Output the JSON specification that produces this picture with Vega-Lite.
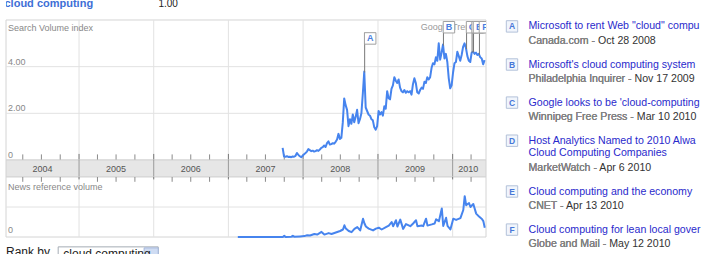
{
  "$schema": "https://vega.github.io/schema/vega-lite/v6.json",
  "padding": {"left": 5, "top": 0, "right": 0, "bottom": 0},
  "background": "white",
  "spacing": 17,
  "config": {
    "view": {"stroke": null},
    "axis": {"disable": true},
    "font": "Liberation Sans",
    "mark": {"font": "Liberation Sans"},
    "text": {"font": "Liberation Sans"}
  },
  "datasets": {
    "years": [{"d": "2005-01-01"}, {"d": "2006-01-01"}, {"d": "2007-01-01"}, {"d": "2008-01-01"}, {"d": "2009-01-01"}, {"d": "2010-01-01"}],
    "quarters": [
      {"d": "2004-04-01"}, {"d": "2004-07-01"}, {"d": "2004-10-01"},
      {"d": "2005-04-01"}, {"d": "2005-07-01"}, {"d": "2005-10-01"},
      {"d": "2006-04-01"}, {"d": "2006-07-01"}, {"d": "2006-10-01"},
      {"d": "2007-04-01"}, {"d": "2007-07-01"}, {"d": "2007-10-01"},
      {"d": "2008-04-01"}, {"d": "2008-07-01"}, {"d": "2008-10-01"},
      {"d": "2009-04-01"}, {"d": "2009-07-01"}, {"d": "2009-10-01"},
      {"d": "2010-04-01"}
    ],
    "yearlabels": [
      {"year": "2004", "mid": "2004-07-06"}, {"year": "2005", "mid": "2005-07-01"}, {"year": "2006", "mid": "2006-07-01"},
      {"year": "2007", "mid": "2007-07-01"}, {"year": "2008", "mid": "2008-07-01"}, {"year": "2009", "mid": "2009-07-01"},
      {"year": "2010", "mid": "2010-03-18"}
    ],
    "ylabels": [{"v": 0, "label": "0"}, {"v": 2, "label": "2.00"}, {"v": 4, "label": "4.00"}],
    "search": [
      {"date": "2007-09-23", "value": 0.52}, {"date": "2007-09-30", "value": 0.15}, {"date": "2007-10-07", "value": 0.14},
      {"date": "2007-10-14", "value": 0.16}, {"date": "2007-10-21", "value": 0.13}, {"date": "2007-10-28", "value": 0.14},
      {"date": "2007-11-04", "value": 0.12}, {"date": "2007-11-11", "value": 0.15}, {"date": "2007-11-18", "value": 0.14},
      {"date": "2007-11-25", "value": 0.18}, {"date": "2007-12-02", "value": 0.3}, {"date": "2007-12-09", "value": 0.22},
      {"date": "2007-12-16", "value": 0.16}, {"date": "2007-12-23", "value": 0.12}, {"date": "2007-12-30", "value": 0.18},
      {"date": "2008-01-06", "value": 0.25}, {"date": "2008-01-13", "value": 0.3}, {"date": "2008-01-20", "value": 0.36},
      {"date": "2008-01-27", "value": 0.47}, {"date": "2008-02-03", "value": 0.42}, {"date": "2008-02-10", "value": 0.38},
      {"date": "2008-02-17", "value": 0.4}, {"date": "2008-02-24", "value": 0.36}, {"date": "2008-03-02", "value": 0.38},
      {"date": "2008-03-09", "value": 0.42}, {"date": "2008-03-16", "value": 0.39}, {"date": "2008-03-23", "value": 0.45},
      {"date": "2008-03-30", "value": 0.52}, {"date": "2008-04-06", "value": 0.55}, {"date": "2008-04-13", "value": 0.62},
      {"date": "2008-04-20", "value": 0.56}, {"date": "2008-04-27", "value": 0.72}, {"date": "2008-05-04", "value": 0.8},
      {"date": "2008-05-11", "value": 0.66}, {"date": "2008-05-18", "value": 0.68}, {"date": "2008-05-25", "value": 0.72},
      {"date": "2008-06-01", "value": 0.7}, {"date": "2008-06-08", "value": 0.78}, {"date": "2008-06-15", "value": 0.88},
      {"date": "2008-06-22", "value": 1.12}, {"date": "2008-06-29", "value": 0.9}, {"date": "2008-07-06", "value": 0.95},
      {"date": "2008-07-13", "value": 1.6}, {"date": "2008-07-20", "value": 2.64}, {"date": "2008-07-27", "value": 2.35},
      {"date": "2008-08-03", "value": 2.15}, {"date": "2008-08-10", "value": 1.45}, {"date": "2008-08-17", "value": 1.75},
      {"date": "2008-08-24", "value": 1.55}, {"date": "2008-08-31", "value": 1.95}, {"date": "2008-09-07", "value": 1.62},
      {"date": "2008-09-14", "value": 1.85}, {"date": "2008-09-21", "value": 2.15}, {"date": "2008-09-28", "value": 1.58},
      {"date": "2008-10-05", "value": 1.75}, {"date": "2008-10-12", "value": 2.0}, {"date": "2008-10-19", "value": 2.85},
      {"date": "2008-10-26", "value": 3.79}, {"date": "2008-11-02", "value": 2.25}, {"date": "2008-11-09", "value": 2.1},
      {"date": "2008-11-16", "value": 1.95}, {"date": "2008-11-23", "value": 1.9}, {"date": "2008-11-30", "value": 1.75},
      {"date": "2008-12-07", "value": 1.7}, {"date": "2008-12-14", "value": 1.4}, {"date": "2008-12-21", "value": 1.3},
      {"date": "2008-12-28", "value": 1.45}, {"date": "2009-01-04", "value": 2.1}, {"date": "2009-01-11", "value": 1.95},
      {"date": "2009-01-18", "value": 2.05}, {"date": "2009-01-25", "value": 1.9}, {"date": "2009-02-01", "value": 2.3},
      {"date": "2009-02-08", "value": 2.2}, {"date": "2009-02-15", "value": 2.95}, {"date": "2009-02-22", "value": 2.65},
      {"date": "2009-03-01", "value": 2.6}, {"date": "2009-03-08", "value": 3.05}, {"date": "2009-03-15", "value": 3.2},
      {"date": "2009-03-22", "value": 3.55}, {"date": "2009-03-29", "value": 3.4}, {"date": "2009-04-05", "value": 3.3},
      {"date": "2009-04-12", "value": 3.45}, {"date": "2009-04-19", "value": 3.1}, {"date": "2009-04-26", "value": 2.95},
      {"date": "2009-05-03", "value": 2.9}, {"date": "2009-05-10", "value": 3.0}, {"date": "2009-05-17", "value": 2.88},
      {"date": "2009-05-24", "value": 2.95}, {"date": "2009-05-31", "value": 2.9}, {"date": "2009-06-07", "value": 2.95},
      {"date": "2009-06-14", "value": 2.8}, {"date": "2009-06-21", "value": 3.25}, {"date": "2009-06-28", "value": 3.5},
      {"date": "2009-07-05", "value": 3.3}, {"date": "2009-07-12", "value": 2.9}, {"date": "2009-07-19", "value": 2.85},
      {"date": "2009-07-26", "value": 3.0}, {"date": "2009-08-02", "value": 3.1}, {"date": "2009-08-09", "value": 3.05},
      {"date": "2009-08-16", "value": 3.35}, {"date": "2009-08-23", "value": 3.3}, {"date": "2009-08-30", "value": 3.55},
      {"date": "2009-09-06", "value": 3.45}, {"date": "2009-09-13", "value": 3.55}, {"date": "2009-09-20", "value": 3.95},
      {"date": "2009-09-27", "value": 4.15}, {"date": "2009-10-04", "value": 4.1}, {"date": "2009-10-11", "value": 4.4},
      {"date": "2009-10-18", "value": 4.25}, {"date": "2009-10-25", "value": 5.0}, {"date": "2009-11-01", "value": 4.3},
      {"date": "2009-11-08", "value": 4.6}, {"date": "2009-11-15", "value": 4.95}, {"date": "2009-11-22", "value": 4.35},
      {"date": "2009-11-29", "value": 4.55}, {"date": "2009-12-06", "value": 4.2}, {"date": "2009-12-13", "value": 3.5},
      {"date": "2009-12-20", "value": 3.07}, {"date": "2009-12-27", "value": 3.2}, {"date": "2010-01-03", "value": 3.75},
      {"date": "2010-01-10", "value": 4.15}, {"date": "2010-01-17", "value": 4.2}, {"date": "2010-01-24", "value": 4.64},
      {"date": "2010-01-31", "value": 4.45}, {"date": "2010-02-07", "value": 4.25}, {"date": "2010-02-14", "value": 4.5},
      {"date": "2010-02-21", "value": 4.85}, {"date": "2010-02-28", "value": 5.0}, {"date": "2010-03-07", "value": 4.8},
      {"date": "2010-03-14", "value": 4.45}, {"date": "2010-03-21", "value": 4.25}, {"date": "2010-03-28", "value": 4.2},
      {"date": "2010-04-04", "value": 4.6}, {"date": "2010-04-11", "value": 4.65}, {"date": "2010-04-18", "value": 4.55},
      {"date": "2010-04-25", "value": 4.6}, {"date": "2010-05-02", "value": 4.5}, {"date": "2010-05-09", "value": 4.55},
      {"date": "2010-05-16", "value": 4.4}, {"date": "2010-05-23", "value": 4.35}, {"date": "2010-05-30", "value": 4.1},
      {"date": "2010-06-06", "value": 4.28}
    ],
    "news": [
      {"date": "2007-02-16", "value": 0}, {"date": "2007-09-24", "value": 0}, {"date": "2007-10-01", "value": 0.04},
      {"date": "2007-10-08", "value": 0}, {"date": "2007-11-05", "value": 0.01}, {"date": "2007-11-12", "value": 0.04},
      {"date": "2007-11-19", "value": 0.01}, {"date": "2007-12-17", "value": 0.02}, {"date": "2008-01-07", "value": 0.03},
      {"date": "2008-01-21", "value": 0.06}, {"date": "2008-02-04", "value": 0.05}, {"date": "2008-02-25", "value": 0.1},
      {"date": "2008-03-10", "value": 0.08}, {"date": "2008-03-31", "value": 0.17}, {"date": "2008-04-14", "value": 0.08},
      {"date": "2008-05-05", "value": 0.13}, {"date": "2008-05-19", "value": 0.1}, {"date": "2008-06-09", "value": 0.15},
      {"date": "2008-06-30", "value": 0.2}, {"date": "2008-07-14", "value": 0.25}, {"date": "2008-07-21", "value": 0.39},
      {"date": "2008-07-28", "value": 0.28}, {"date": "2008-08-11", "value": 0.2}, {"date": "2008-08-25", "value": 0.16},
      {"date": "2008-09-08", "value": 0.27}, {"date": "2008-09-22", "value": 0.33}, {"date": "2008-10-06", "value": 0.22},
      {"date": "2008-10-20", "value": 0.61}, {"date": "2008-10-27", "value": 0.45}, {"date": "2008-11-03", "value": 0.35},
      {"date": "2008-11-17", "value": 0.28}, {"date": "2008-12-08", "value": 0.22}, {"date": "2008-12-22", "value": 0.28},
      {"date": "2009-01-05", "value": 0.31}, {"date": "2009-01-19", "value": 0.25}, {"date": "2009-02-09", "value": 0.33},
      {"date": "2009-02-23", "value": 0.38}, {"date": "2009-03-09", "value": 0.5}, {"date": "2009-03-16", "value": 0.36},
      {"date": "2009-03-30", "value": 0.56}, {"date": "2009-04-06", "value": 0.35}, {"date": "2009-04-20", "value": 0.58},
      {"date": "2009-05-04", "value": 0.27}, {"date": "2009-05-18", "value": 0.43}, {"date": "2009-06-08", "value": 0.36},
      {"date": "2009-06-22", "value": 0.45}, {"date": "2009-07-06", "value": 0.56}, {"date": "2009-07-13", "value": 0.36},
      {"date": "2009-08-03", "value": 0.38}, {"date": "2009-08-10", "value": 0.36}, {"date": "2009-08-24", "value": 0.61},
      {"date": "2009-08-31", "value": 0.38}, {"date": "2009-09-21", "value": 0.42}, {"date": "2009-10-05", "value": 0.45},
      {"date": "2009-10-12", "value": 0.59}, {"date": "2009-10-26", "value": 0.53}, {"date": "2009-11-09", "value": 0.95},
      {"date": "2009-11-16", "value": 0.37}, {"date": "2009-11-30", "value": 0.64}, {"date": "2009-12-07", "value": 0.37},
      {"date": "2009-12-21", "value": 0.25}, {"date": "2010-01-04", "value": 0.61}, {"date": "2010-01-18", "value": 0.57},
      {"date": "2010-02-08", "value": 0.63}, {"date": "2010-02-22", "value": 0.9}, {"date": "2010-03-01", "value": 1.36},
      {"date": "2010-03-08", "value": 1.06}, {"date": "2010-03-15", "value": 1.1}, {"date": "2010-03-22", "value": 1.13},
      {"date": "2010-03-29", "value": 1.0}, {"date": "2010-04-12", "value": 1.1}, {"date": "2010-04-26", "value": 0.78},
      {"date": "2010-05-10", "value": 0.68}, {"date": "2010-05-24", "value": 0.6}, {"date": "2010-05-31", "value": 0.53},
      {"date": "2010-06-07", "value": 0.31}
    ],
    "flags": [
      {"letter": "A", "date": "2008-10-28", "value": 3.75},
      {"letter": "B", "date": "2009-11-17", "value": 4.9},
      {"letter": "C", "date": "2010-03-10", "value": 4.75},
      {"letter": "D", "date": "2010-04-06", "value": 4.6},
      {"letter": "E", "date": "2010-04-13", "value": 4.62},
      {"letter": "F", "date": "2010-05-12", "value": 4.5}
    ],
    "icons": [
      {"letter": "A", "line": "A1"}, {"letter": "B", "line": "B1"}, {"letter": "C", "line": "C1"},
      {"letter": "D", "line": "D1"}, {"letter": "E", "line": "E1"}, {"letter": "F", "line": "F1"}
    ],
    "newslines": [
      {"line": "A1", "kind": "title", "text": "Microsoft to rent Web \"cloud\" computing services"},
      {"line": "A2", "kind": "source", "text": "Canada.com - Oct 28 2008", "src": "Canada.com -"},
      {"line": "B1", "kind": "title", "text": "Microsoft's cloud computing system"},
      {"line": "B2", "kind": "source", "text": "Philadelphia Inquirer - Nov 17 2009", "src": "Philadelphia Inquirer -"},
      {"line": "C1", "kind": "title", "text": "Google looks to be 'cloud-computing' rainmaker"},
      {"line": "C2", "kind": "source", "text": "Winnipeg Free Press - Mar 10 2010", "src": "Winnipeg Free Press -"},
      {"line": "D1", "kind": "title", "text": "Host Analytics Named to 2010 AlwaysOn OnDemand 100 Top Private"},
      {"line": "D2", "kind": "title", "text": "Cloud Computing Companies"},
      {"line": "D3", "kind": "source", "text": "MarketWatch - Apr 6 2010", "src": "MarketWatch -"},
      {"line": "E1", "kind": "title", "text": "Cloud computing and the economy"},
      {"line": "E2", "kind": "source", "text": "CNET - Apr 13 2010", "src": "CNET -"},
      {"line": "F1", "kind": "title", "text": "Cloud computing for lean local governments"},
      {"line": "F2", "kind": "source", "text": "Globe and Mail - May 12 2010", "src": "Globe and Mail -"}
    ]
  },
  "hconcat": [
    {
      "spacing": 0,
      "bounds": "flush",
      "vconcat": [
        {
          "width": 480,
          "height": 160,
          "layer": [
            {"data": {"values": [{}]}, "mark": {"type": "rect", "fill": "white", "stroke": "#d4d4d4", "strokeWidth": 1},
             "encoding": {"y": {"datum": 0, "type": "quantitative", "scale": {"domain": [0, 6.857], "nice": false, "zero": false}, "axis": null}, "y2": {"datum": 6}}},
            {"data": {"values": [{"v": 2}, {"v": 4}]}, "mark": {"type": "rule", "color": "#e2e2e2"},
             "encoding": {"y": {"field": "v", "type": "quantitative", "scale": {"domain": [0, 6.857], "nice": false, "zero": false}}}},
            {"data": {"name": "years"}, "mark": {"type": "rule", "color": "#e2e2e2"},
             "encoding": {"x": {"field": "d", "type": "temporal", "scale": {"domain": [{"year": 2004, "month": 1, "date": 10}, {"year": 2010, "month": 6, "date": 13}], "nice": false}, "axis": null},
                          "y": {"datum": 0, "type": "quantitative"}, "y2": {"datum": 6}}},
            {"data": {"name": "quarters"}, "mark": {"type": "rule", "color": "#8a8a8a"},
             "encoding": {"x": {"field": "d", "type": "temporal"}, "y": {"datum": 0, "type": "quantitative"}, "y2": {"datum": 0.24}}},
            {"data": {"name": "years"}, "mark": {"type": "rule", "color": "#777777"},
             "encoding": {"x": {"field": "d", "type": "temporal"}, "y": {"datum": 0, "type": "quantitative"}, "y2": {"datum": 0.26}}},
            {"data": {"name": "ylabels"}, "mark": {"type": "text", "align": "left", "baseline": "bottom", "dx": 2, "dy": 0, "fontSize": 9, "color": "#888888"},
             "encoding": {"x": {"datum": {"year": 2004, "month": 1, "date": 10}, "type": "temporal"}, "y": {"field": "v", "type": "quantitative"}, "text": {"field": "label"}}},
            {"data": {"values": [{"t": "Search Volume index"}]}, "mark": {"type": "text", "align": "left", "baseline": "top", "dx": 2, "dy": 4, "fontSize": 9, "color": "#888888"},
             "encoding": {"x": {"datum": {"year": 2004, "month": 1, "date": 10}, "type": "temporal"}, "y": {"datum": 6, "type": "quantitative"}, "text": {"field": "t"}}},
            {"data": {"values": [{"t": "cloud computing"}]}, "mark": {"type": "text", "align": "left", "baseline": "alphabetic", "dx": -1.5, "fontSize": 11, "fontWeight": "bold", "color": "#3e6fd6", "clip": true},
             "encoding": {"x": {"datum": {"year": 2004, "month": 1, "date": 10}, "type": "temporal"}, "y": {"datum": 6.54, "type": "quantitative"}, "text": {"field": "t"}}},
            {"data": {"values": [{"t": "1.00", "d": "2006-01-24"}]}, "mark": {"type": "text", "align": "left", "baseline": "alphabetic", "fontSize": 10, "color": "#222222", "clip": true},
             "encoding": {"x": {"field": "d", "type": "temporal"}, "y": {"datum": 6.54, "type": "quantitative"}, "text": {"field": "t"}}},
            {"data": {"values": [{"t": "Google Trends", "d": "2009-07-29"}]}, "mark": {"type": "text", "align": "left", "baseline": "middle", "fontSize": 9, "color": "#999999", "clip": true},
             "encoding": {"x": {"field": "d", "type": "temporal"}, "y": {"datum": 5.69, "type": "quantitative"}, "text": {"field": "t"}}},
            {"data": {"name": "search"}, "mark": {"type": "line", "color": "#4684ee", "strokeWidth": 2, "strokeJoin": "round"},
             "encoding": {"x": {"field": "date", "type": "temporal"}, "y": {"field": "value", "type": "quantitative"}}},
            {"data": {"name": "flags"}, "mark": {"type": "rule", "color": "#777777", "strokeWidth": 1},
             "encoding": {"x": {"field": "date", "type": "temporal"}, "y": {"field": "value", "type": "quantitative"}, "y2": {"datum": 5.46}}},
            {"data": {"name": "flags"}, "transform": [{"filter": "datum.letter === 'A'"}], "mark": {"type": "square", "size": 132, "fill": "white", "stroke": "#a0a0a0", "strokeWidth": 1, "opacity": 1, "xOffset": 5.5, "yOffset": 11.2, "clip": true},
             "encoding": {"x": {"field": "date", "type": "temporal"}, "y": {"datum": 5.69, "type": "quantitative"}}},
            {"data": {"name": "flags"}, "transform": [{"filter": "datum.letter === 'A'"}], "mark": {"type": "text", "fontSize": 9, "fontWeight": "bold", "color": "#4a7fe0", "xOffset": 5.5, "yOffset": 11.2, "align": "center", "baseline": "middle", "clip": true},
             "encoding": {"x": {"field": "date", "type": "temporal"}, "y": {"datum": 5.69, "type": "quantitative"}, "text": {"field": "letter"}}},
            {"data": {"name": "flags"}, "transform": [{"filter": "datum.letter === 'B'"}], "mark": {"type": "square", "size": 132, "fill": "white", "stroke": "#a0a0a0", "strokeWidth": 1, "opacity": 1, "xOffset": 5.5, "clip": true},
             "encoding": {"x": {"field": "date", "type": "temporal"}, "y": {"datum": 5.69, "type": "quantitative"}}},
            {"data": {"name": "flags"}, "transform": [{"filter": "datum.letter === 'B'"}], "mark": {"type": "text", "fontSize": 9, "fontWeight": "bold", "color": "#4a7fe0", "xOffset": 5.5, "align": "center", "baseline": "middle", "clip": true},
             "encoding": {"x": {"field": "date", "type": "temporal"}, "y": {"datum": 5.69, "type": "quantitative"}, "text": {"field": "letter"}}},
            {"data": {"name": "flags"}, "transform": [{"filter": "datum.letter === 'C'"}], "mark": {"type": "square", "size": 132, "fill": "white", "stroke": "#a0a0a0", "strokeWidth": 1, "opacity": 1, "xOffset": 5.5, "clip": true},
             "encoding": {"x": {"field": "date", "type": "temporal"}, "y": {"datum": 5.69, "type": "quantitative"}}},
            {"data": {"name": "flags"}, "transform": [{"filter": "datum.letter === 'C'"}], "mark": {"type": "text", "fontSize": 9, "fontWeight": "bold", "color": "#4a7fe0", "xOffset": 5.5, "align": "center", "baseline": "middle", "clip": true},
             "encoding": {"x": {"field": "date", "type": "temporal"}, "y": {"datum": 5.69, "type": "quantitative"}, "text": {"field": "letter"}}},
            {"data": {"name": "flags"}, "transform": [{"filter": "datum.letter === 'D'"}], "mark": {"type": "square", "size": 132, "fill": "white", "stroke": "#a0a0a0", "strokeWidth": 1, "opacity": 1, "xOffset": 5.5, "clip": true},
             "encoding": {"x": {"field": "date", "type": "temporal"}, "y": {"datum": 5.69, "type": "quantitative"}}},
            {"data": {"name": "flags"}, "transform": [{"filter": "datum.letter === 'D'"}], "mark": {"type": "text", "fontSize": 9, "fontWeight": "bold", "color": "#4a7fe0", "xOffset": 5.5, "align": "center", "baseline": "middle", "clip": true},
             "encoding": {"x": {"field": "date", "type": "temporal"}, "y": {"datum": 5.69, "type": "quantitative"}, "text": {"field": "letter"}}},
            {"data": {"name": "flags"}, "transform": [{"filter": "datum.letter === 'E'"}], "mark": {"type": "square", "size": 132, "fill": "white", "stroke": "#a0a0a0", "strokeWidth": 1, "opacity": 1, "xOffset": 5.5, "clip": true},
             "encoding": {"x": {"field": "date", "type": "temporal"}, "y": {"datum": 5.69, "type": "quantitative"}}},
            {"data": {"name": "flags"}, "transform": [{"filter": "datum.letter === 'E'"}], "mark": {"type": "text", "fontSize": 9, "fontWeight": "bold", "color": "#4a7fe0", "xOffset": 5.5, "align": "center", "baseline": "middle", "clip": true},
             "encoding": {"x": {"field": "date", "type": "temporal"}, "y": {"datum": 5.69, "type": "quantitative"}, "text": {"field": "letter"}}},
            {"data": {"name": "flags"}, "transform": [{"filter": "datum.letter === 'F'"}], "mark": {"type": "square", "size": 132, "fill": "white", "stroke": "#a0a0a0", "strokeWidth": 1, "opacity": 1, "xOffset": 5.5, "clip": true},
             "encoding": {"x": {"field": "date", "type": "temporal"}, "y": {"datum": 5.69, "type": "quantitative"}}},
            {"data": {"name": "flags"}, "transform": [{"filter": "datum.letter === 'F'"}], "mark": {"type": "text", "fontSize": 9, "fontWeight": "bold", "color": "#4a7fe0", "xOffset": 5.5, "align": "center", "baseline": "middle", "clip": true},
             "encoding": {"x": {"field": "date", "type": "temporal"}, "y": {"datum": 5.69, "type": "quantitative"}, "text": {"field": "letter"}}}
          ]
        },
        {
          "width": 480,
          "height": 17,
          "layer": [
            {"data": {"values": [{}]}, "mark": {"type": "rect", "fill": "#e6e6e6", "stroke": "#d2d2d2", "strokeWidth": 1}, "encoding": {}},
            {"data": {"name": "years"}, "mark": {"type": "rule", "color": "#9a9a9a"},
             "encoding": {"x": {"field": "d", "type": "temporal", "scale": {"domain": [{"year": 2004, "month": 1, "date": 10}, {"year": 2010, "month": 6, "date": 13}], "nice": false}, "axis": null}}},
            {"data": {"name": "yearlabels"}, "mark": {"type": "text", "fontSize": 9, "color": "#555555", "baseline": "middle", "align": "center"},
             "encoding": {"x": {"field": "mid", "type": "temporal"}, "text": {"field": "year"}}}
          ]
        },
        {
          "width": 480,
          "height": 60,
          "layer": [
            {"data": {"values": [{}]}, "mark": {"type": "rect", "fill": "white", "stroke": "#d4d4d4", "strokeWidth": 1}, "encoding": {}},
            {"data": {"name": "years"}, "mark": {"type": "rule", "color": "#e2e2e2"},
             "encoding": {"x": {"field": "d", "type": "temporal", "scale": {"domain": [{"year": 2004, "month": 1, "date": 10}, {"year": 2010, "month": 6, "date": 13}], "nice": false}, "axis": null}}},
            {"data": {"values": [{"v": 1}]}, "mark": {"type": "rule", "color": "#e2e2e2"},
             "encoding": {"y": {"field": "v", "type": "quantitative", "scale": {"domain": [0, 2], "nice": false, "zero": false}, "axis": null}}},
            {"data": {"name": "quarters"}, "mark": {"type": "rule", "color": "#8a8a8a"},
             "encoding": {"x": {"field": "d", "type": "temporal"}, "y": {"datum": 2, "type": "quantitative"}, "y2": {"datum": 1.84}}},
            {"data": {"name": "years"}, "mark": {"type": "rule", "color": "#777777"},
             "encoding": {"x": {"field": "d", "type": "temporal"}, "y": {"datum": 2, "type": "quantitative"}, "y2": {"datum": 1.92}}},
            {"data": {"values": [{"t": "News reference volume"}]}, "mark": {"type": "text", "align": "left", "baseline": "top", "dx": 2, "dy": 6, "fontSize": 9, "color": "#888888"},
             "encoding": {"x": {"datum": {"year": 2004, "month": 1, "date": 10}, "type": "temporal"}, "y": {"datum": 2, "type": "quantitative"}, "text": {"field": "t"}}},
            {"data": {"values": [{"t": "0"}]}, "mark": {"type": "text", "align": "left", "baseline": "bottom", "dx": 2, "dy": -2, "fontSize": 9, "color": "#888888"},
             "encoding": {"x": {"datum": {"year": 2004, "month": 1, "date": 10}, "type": "temporal"}, "y": {"datum": 0, "type": "quantitative"}, "text": {"field": "t"}}},
            {"data": {"name": "news"}, "mark": {"type": "line", "color": "#4684ee", "strokeWidth": 2, "strokeJoin": "round"},
             "encoding": {"x": {"field": "date", "type": "temporal"}, "y": {"field": "value", "type": "quantitative"}}}
          ]
        },
        {
          "width": 480,
          "height": 17,
          "layer": [
            {"data": {"values": [{"t": "Rank by"}]}, "mark": {"type": "text", "align": "left", "baseline": "top", "fontSize": 12, "color": "#222222", "dy": 1, "clip": true},
             "encoding": {"x": {"datum": {"year": 2004, "month": 1, "date": 10}, "type": "temporal", "scale": {"domain": [{"year": 2004, "month": 1, "date": 10}, {"year": 2010, "month": 6, "date": 13}], "nice": false}, "axis": null}, "text": {"field": "t"}}},
            {"data": {"values": [{"a": "2004-09-21", "b": "2006-01-23"}]}, "mark": {"type": "rect", "fill": "white", "stroke": "#a5acb5", "strokeWidth": 1, "clip": true},
             "encoding": {"x": {"field": "a", "type": "temporal"}, "x2": {"field": "b"}, "y": {"datum": 0.42, "type": "quantitative", "scale": {"domain": [0, 1], "nice": false, "zero": false}, "axis": null}, "y2": {"datum": -0.6}}},
            {"data": {"values": [{"a": "2005-11-15", "b": "2006-01-23"}]}, "mark": {"type": "rect", "fill": "#cfdcf3", "stroke": "#a3b6da", "strokeWidth": 1, "clip": true},
             "encoding": {"x": {"field": "a", "type": "temporal"}, "x2": {"field": "b"}, "y": {"datum": 0.36, "type": "quantitative"}, "y2": {"datum": -0.6}}},
            {"data": {"values": [{"t": "cloud computing", "d": "2004-10-16"}]}, "mark": {"type": "text", "align": "left", "baseline": "top", "fontSize": 12, "color": "#222222", "dy": 2, "clip": true},
             "encoding": {"x": {"field": "d", "type": "temporal"}, "y": {"datum": 0.42, "type": "quantitative"}, "text": {"field": "t"}}}
          ]
        }
      ]
    },
    {
      "width": 16.5,
      "height": 254,
      "layer": [
        {"data": {"name": "icons"}, "mark": {"type": "square", "size": 130, "fill": "#f1f5fc", "stroke": "#b3c1d9", "strokeWidth": 1, "opacity": 1, "yOffset": 1},
         "encoding": {
           "x": {"datum": "icon", "type": "nominal", "scale": {"type": "point", "domain": ["icon", "text"], "padding": 0}, "axis": null},
           "y": {"field": "line", "type": "nominal", "scale": {"type": "point", "domain": ["p1", "p2", "A1", "A2", "A3", "B1", "B2", "B3", "C1", "C2", "C3", "D1", "D2", "D3", "D4", "E1", "E2", "E3", "F1", "F2", "q1"], "padding": 0}, "axis": null}
         }},
        {"data": {"name": "icons"}, "mark": {"type": "text", "fontSize": 8.5, "fontWeight": "bold", "color": "#4878d8", "align": "center", "baseline": "middle", "dy": 1},
         "encoding": {"x": {"datum": "icon", "type": "nominal"}, "y": {"field": "line", "type": "nominal"}, "text": {"field": "letter"}}},
        {"data": {"name": "newslines"}, "transform": [{"filter": "datum.kind === 'title'"}], "mark": {"type": "text", "align": "left", "baseline": "middle", "fontSize": 10.6, "color": "#2a2acc", "limit": 172, "ellipsis": "\u200b", "dy": 1},
         "encoding": {"x": {"datum": "text", "type": "nominal"}, "y": {"field": "line", "type": "nominal"}, "text": {"field": "text"}}},
        {"data": {"name": "newslines"}, "transform": [{"filter": "datum.kind === 'source'"}], "mark": {"type": "text", "align": "left", "baseline": "middle", "fontSize": 10.6, "color": "#333333", "limit": 172, "ellipsis": "\u200b", "dy": 2.5},
         "encoding": {"x": {"datum": "text", "type": "nominal"}, "y": {"field": "line", "type": "nominal"}, "text": {"field": "text"}}},
        {"data": {"name": "newslines"}, "transform": [{"filter": "datum.kind === 'source'"}], "mark": {"type": "text", "align": "left", "baseline": "middle", "fontSize": 10.6, "color": "#8c8c8c", "limit": 172, "ellipsis": "\u200b", "dy": 2.5},
         "encoding": {"x": {"datum": "text", "type": "nominal"}, "y": {"field": "line", "type": "nominal"}, "text": {"field": "src"}}}
      ]
    }
  ]
}
